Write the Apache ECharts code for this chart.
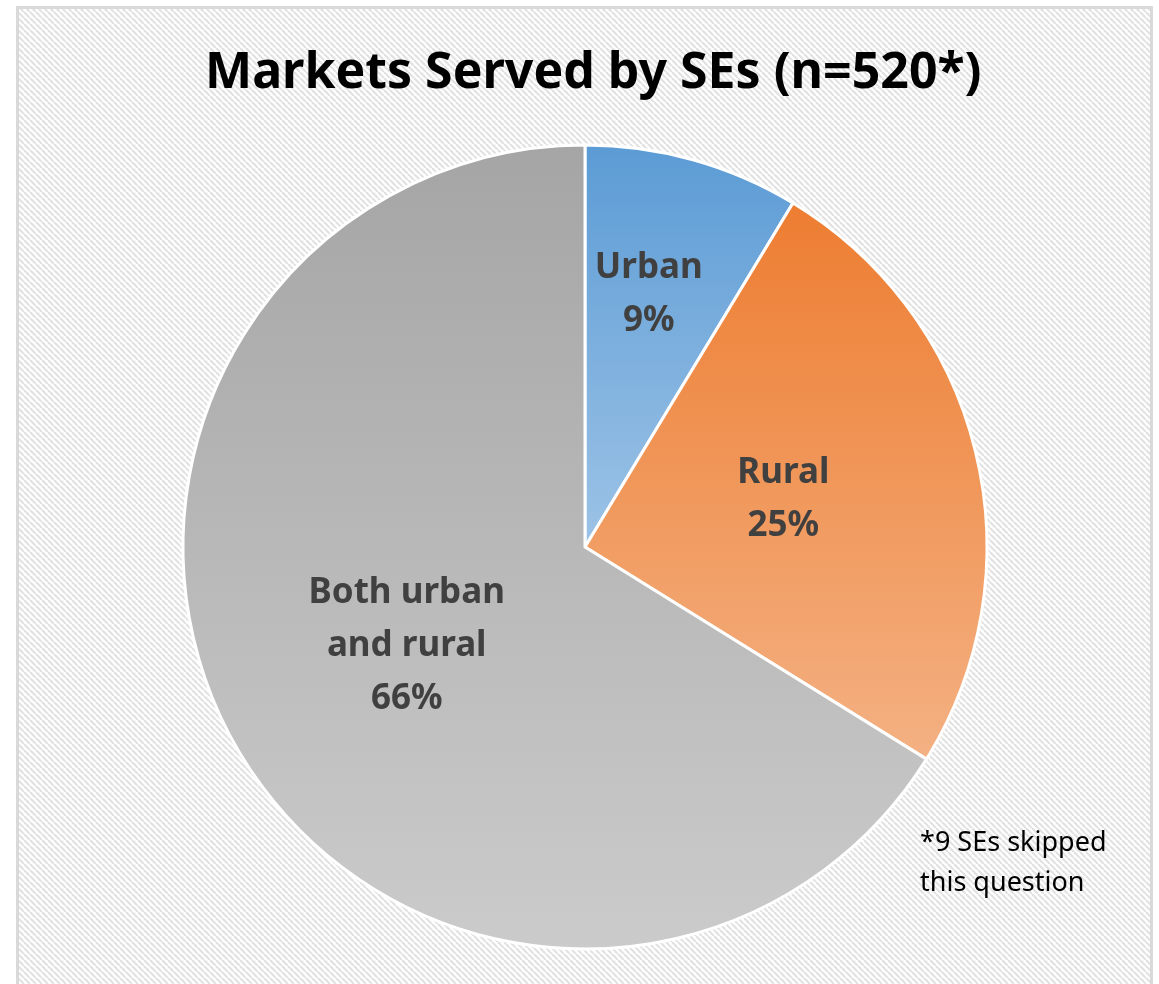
<!DOCTYPE html>
<html>
<head>
<meta charset="utf-8">
<script src="https://cdn.jsdelivr.net/npm/echarts@6/dist/echarts.min.js"></script>
<style>
  html, body { margin: 0; padding: 0; background: #fff; }
  #main { width: 1159px; height: 984px; }
</style>
</head>
<body>
<div id="main"></div>
<script>
// data
const categories = ['Urban', 'Rural', 'Both urban\nand rural']
const counts = [45, 131, 344]
const percents = ['9%', '25%', '66%']
const titleText = 'Markets Served by SEs (n=520*)'
const noteText = '*9 SEs skipped\nthis question'

// colours (top -> bottom gradient)
const colorsTop = ['#5b9bd5', '#ed7d31', '#a5a5a5']
const colorsBottom = ['#9dc3e6', '#f4b183', '#cbcbcb']

// striped background tile
const tile = document.createElement('canvas')
tile.width = 6
tile.height = 6
const ctx = tile.getContext('2d')
ctx.fillStyle = '#ffffff'
ctx.fillRect(0, 0, 6, 6)
ctx.strokeStyle = '#e2e2e2'
ctx.lineWidth = 2.2
for (let k = -1; k <= 1; k++) {
  ctx.beginPath()
  ctx.moveTo(k * 6, 0)
  ctx.lineTo(k * 6 + 6, 6)
  ctx.stroke()
}

const chart = echarts.init(document.getElementById('main'))

const labelOffsets = [[9, -56], [0, 0], [0, 0]]

const option = {
  backgroundColor: '#ffffff',
  title: {
    text: titleText,
    left: 200,
    top: 44,
    textStyle: {
      fontFamily: 'Noto Sans',
      fontWeight: 'bold',
      fontSize: 50,
      color: '#000000'
    }
  },
  graphic: [
    {
      type: 'rect',
      z: -10,
      shape: { x: 17.5, y: 7.5, width: 1134, height: 990 },
      style: {
        fill: { image: tile, repeat: 'repeat' },
        stroke: '#d9d9d9',
        lineWidth: 3
      }
    },
    {
      type: 'text',
      left: 920,
      top: 823,
      style: {
        text: noteText,
        fontFamily: 'Noto Sans',
        fontSize: 27,
        lineHeight: 40,
        fill: '#000000'
      }
    }
  ],
  series: [
    {
      type: 'pie',
      center: [585, 547],
      radius: 402,
      startAngle: 90,
      clockwise: true,
      animation: false,
      label: {
        position: 'inside',
        fontFamily: 'Noto Sans',
        fontWeight: 'bold',
        fontSize: 35,
        lineHeight: 53,
        color: '#404040',
        formatter: (p) => p.name + '\n' + percents[p.dataIndex]
      },
      itemStyle: {
        borderColor: '#ffffff',
        borderWidth: 3
      },
      emphasis: { disabled: true },
      data: categories.map((name, i) => ({
        name: name,
        value: counts[i],
        label: { offset: labelOffsets[i] },
        itemStyle: {
          color: new echarts.graphic.LinearGradient(0, 0, 0, 1, [
            { offset: 0, color: colorsTop[i] },
            { offset: 1, color: colorsBottom[i] }
          ])
        }
      }))
    }
  ]
}

chart.setOption(option)
</script>
</body>
</html>
